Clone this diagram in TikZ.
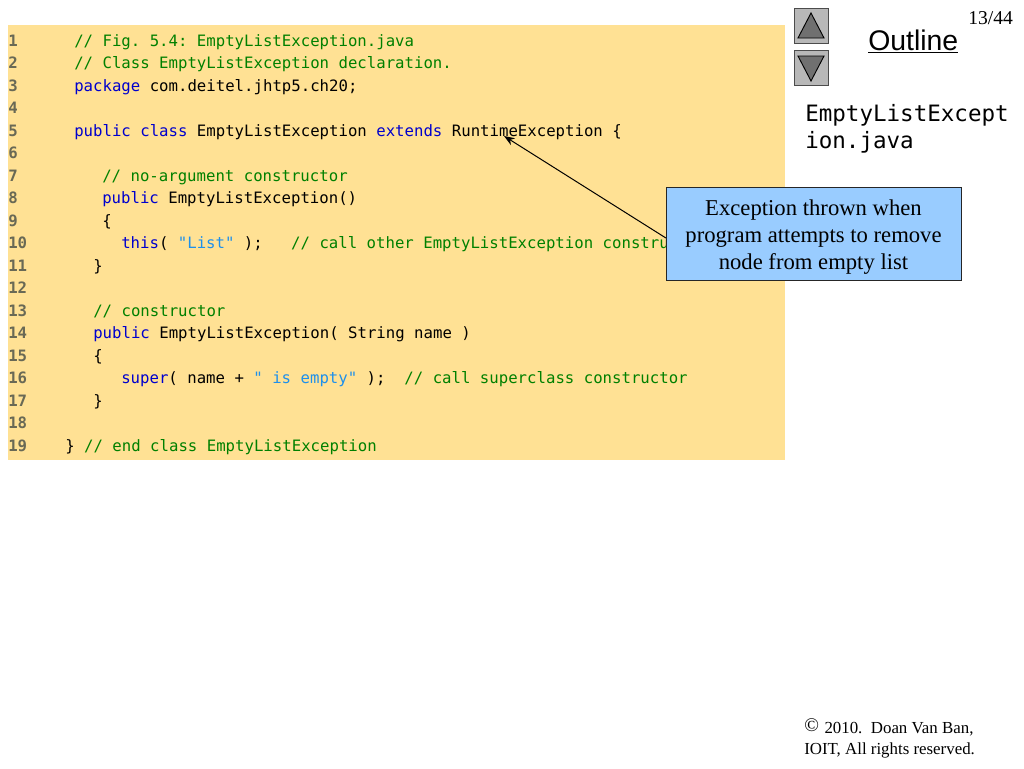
\documentclass[tikz,border=0pt]{standalone}
\usepackage{fontspec}
\usepackage{xcolor}
\setmainfont{Liberation Serif}
\newfontfamily\outlinefont{Liberation Sans}
\newfontfamily\codefont{DejaVu Sans Mono}
\usetikzlibrary{arrows.meta}
\definecolor{codeBack}{RGB}{255,225,148}
\definecolor{calloutBlue}{RGB}{153,204,255}
\definecolor{commentGreen}{RGB}{0,128,0}
\definecolor{keywordBlue}{RGB}{0,0,205}
\definecolor{stringBlue}{RGB}{30,144,235}
\definecolor{numberGray}{RGB}{105,105,85}
\definecolor{buttonGray}{RGB}{184,184,184}
\definecolor{arrowGray}{RGB}{112,112,112}
\newcommand\cmt[1]{\textcolor{commentGreen}{#1}}
\newcommand\kw[1]{\textcolor{keywordBlue}{#1}}
\newcommand\str[1]{\textcolor{stringBlue}{#1}}
\frenchspacing
\tikzset{
  textline/.style={anchor=base west,inner sep=0pt},
  codeline/.style={textline,font=\codefont\fontsize{11.76}{14}\selectfont},
  numline/.style={codeline,text=numberGray,font=\codefont\bfseries\fontsize{11.76}{14}\selectfont},
  navbutton/.style={draw=black!70,fill=buttonGray,minimum width=25.5pt,minimum height=26pt,inner sep=0pt},
  navarrow/.style={draw=black,fill=arrowGray,line width=0.7pt,line join=miter},
}
\begin{document}
\begin{tikzpicture}[x=0.75pt,y=-0.75pt]
\useasboundingbox (0,0) rectangle (1024,768);
\fill [codeBack] (8,25) rectangle (785,460);

\foreach \n in {1,...,19}
  \node [numline] (num\n) at (8,{46+(\n-1)*22.5}) {\n};

\node [codeline] (line1) at (74,46) {\cmt{// Fig. 5.4: EmptyListException.java}};
\node [codeline] (line2) at (74,68.5) {\cmt{// Class EmptyListException declaration.}};
\node [codeline] (line3) at (74,91) {\kw{package} com.deitel.jhtp5.ch20;};
\node [codeline] (line5) at (74,136) {\kw{public class} EmptyListException \kw{extends} RuntimeException \{};
\node [codeline] (line7) at (102,181) {\cmt{// no-argument constructor}};
\node [codeline] (line8) at (102,203.5) {\kw{public} EmptyListException()};
\node [codeline] (line9) at (102,226) {\{};
\node [codeline] (line10) at (121,248.5) {\kw{this}( \str{"List"} );\ \ \ \cmt{// call other EmptyListException constru}};
\node [codeline] (line11) at (93,271) {\}};
\node [codeline] (line13) at (93,316) {\cmt{// constructor}};
\node [codeline] (line14) at (93,338.5) {\kw{public} EmptyListException( String name )};
\node [codeline] (line15) at (93,361) {\{};
\node [codeline] (line16) at (121,383.5) {\kw{super}( name + \str{" is empty"} );\ \ \cmt{// call superclass constructor}};
\node [codeline] (line17) at (93,406) {\}};
\node [codeline] (line19) at (65,451) {\} \cmt{// end class EmptyListException}};

% navigation buttons
\node [navbutton] (upbutton) at (811,25.5) {};
\node [navbutton] (downbutton) at (811,68) {};
\draw [navarrow] (811,13) -- (798,38) -- (824,38) -- cycle;
\draw [navarrow] (811,81) -- (798,56) -- (824,56) -- cycle;

\node [textline,font=\fontsize{14.7}{17}\selectfont] (pagenum) at (968,24) {13/44};
\node [textline,font=\outlinefont\fontsize{21.3}{25}\selectfont] (outline) at (868,50) {\underline{Outline}};
\node [textline,font=\codefont\fontsize{16.9}{20}\selectfont] (file1) at (805,121) {EmptyListExcept};
\node [textline,font=\codefont\fontsize{16.9}{20}\selectfont] (file2) at (805,148) {ion.java};

\coordinate (tip) at (504,136);
\node [draw=black!85,fill=calloutBlue,minimum width=221pt,minimum height=70pt,inner sep=0pt,
  align=center,font=\fontsize{17}{20.25}\selectfont] (callout) at (813.5,234)
  {\rule{0pt}{16pt}Exception thrown when\\program attempts to remove\\node from empty list};
\draw [-{Stealth[length=8pt,width=6pt]},black,line width=0.75pt] ([yshift=-3pt]callout.west) -- (tip);

\node [textline,font=\fontsize{12.65}{15}\selectfont] (copy1) at (804,733) {{\fontsize{14.5}{15}\selectfont\raisebox{1pt}{\textcopyright}}\kern1pt\ 2010.\ \ Doan Van Ban,};
\node [textline,font=\fontsize{12.65}{15}\selectfont] (copy2) at (804,754) {IOIT, All rights reserved.};
\end{tikzpicture}
\end{document}
